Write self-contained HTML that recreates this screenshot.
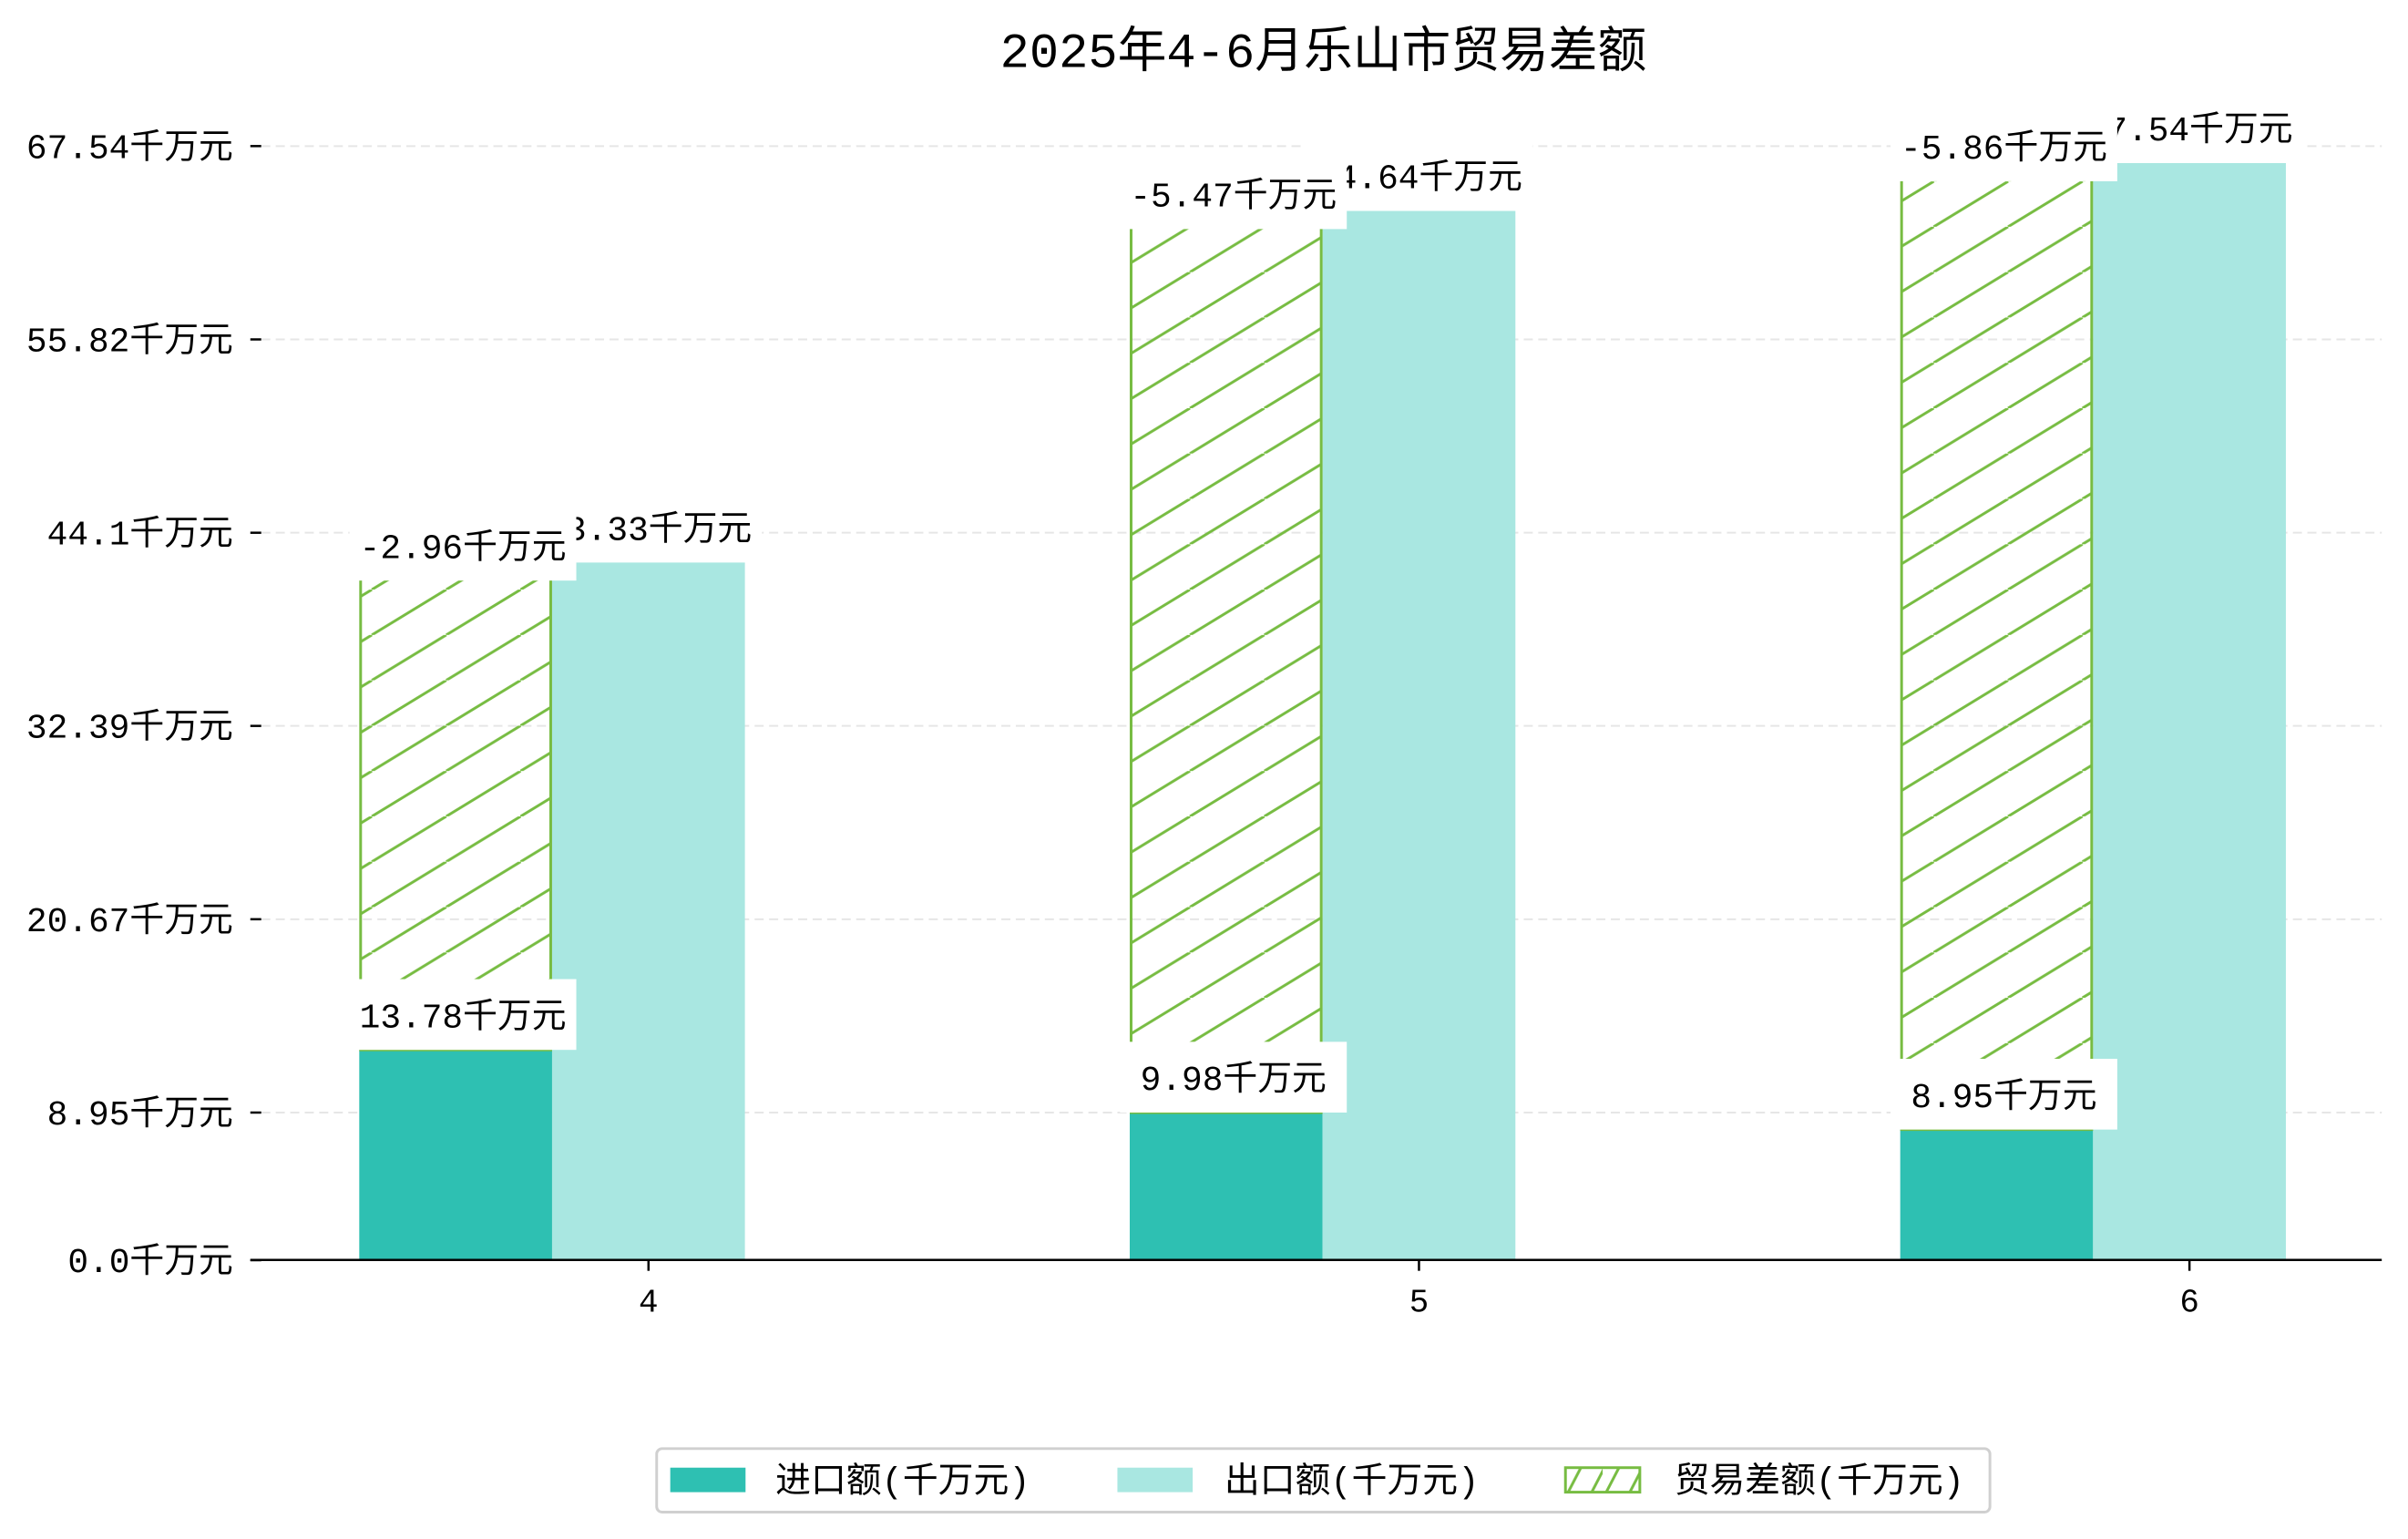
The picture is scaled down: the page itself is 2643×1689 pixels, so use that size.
<!DOCTYPE html>
<html><head><meta charset="utf-8"><title>2025年4-6月乐山市贸易差额</title>
<style>
html,body{margin:0;padding:0;background:#fff;width:2643px;height:1689px;overflow:hidden}
svg{display:block}
text{font-family:"Liberation Mono","Noto Sans CJK SC",monospace;fill:#000}
</style></head>
<body>
<svg id="chart" width="2643" height="1689" viewBox="0 0 2643 1689" xmlns="http://www.w3.org/2000/svg">
<defs>
<pattern id="hatch" patternUnits="userSpaceOnUse" width="82" height="50">
<line x1="0" y1="50" x2="82" y2="0" stroke="#77bc42" stroke-width="3"/>
<line x1="-82" y1="50" x2="0" y2="0" stroke="#77bc42" stroke-width="3"/>
<line x1="82" y1="50" x2="164" y2="0" stroke="#77bc42" stroke-width="3"/>
</pattern>
<pattern id="hatchLegend" patternUnits="userSpaceOnUse" width="42" height="27" x="1725" y="1618">
<line x1="4" y1="27" x2="18" y2="0" stroke="#77bc42" stroke-width="3"/>
<line x1="30" y1="27" x2="44" y2="0" stroke="#77bc42" stroke-width="3"/>
</pattern>
</defs>
<g transform="scale(0.9955)">
<text x="1459" y="74" font-size="54" text-anchor="middle">2025年4-6月乐山市贸易差额</text>
<g id="plot"></g>
<g>
<rect x="724" y="1597" width="1470" height="70" rx="6" fill="#fff" stroke="#d0d0d0" stroke-width="3"/>
<rect x="739" y="1618" width="83" height="27" fill="#2ec0b2"/>
<text x="855" y="1645" font-size="39">进口额(千万元)</text>
<rect x="1232" y="1618" width="83" height="27" fill="#a9e7e1"/>
<text x="1350" y="1645" font-size="39">出口额(千万元)</text>
<rect x="1726" y="1618" width="82" height="27" fill="url(#hatchLegend)" stroke="#77bc42" stroke-width="3"/>
<text x="1846" y="1645" font-size="39">贸易差额(千万元)</text>
</g>
</g>
</svg>
<script>
const months = ["4", "5", "6"];
const importVals = [13.78, 9.98, 8.95];
const exportVals = [43.33, 64.64, 67.54];
const balanceVals = [-2.96, -5.47, -5.86];
const tickVals = [0.0, 8.95, 20.67, 32.39, 44.1, 55.82, 67.54];
const tickOffset = 1.03;

const NS = "http://www.w3.org/2000/svg";
const plot = document.getElementById("plot");
const X0 = 276, X1 = 2626, AXIS_Y = 1389;
const Y_ZERO = 1408, K = 18.185;
const yScale = v => Y_ZERO - v * K;
const GROUP0 = 715, GROUP_STEP = 849.5, BW = 212.6;
const xCenter = i => GROUP0 + i * GROUP_STEP;

function mk(tag, attrs, parent) {
  const el = document.createElementNS(NS, tag);
  for (const k in attrs) el.setAttribute(k, attrs[k]);
  (parent || plot).appendChild(el);
  return el;
}

tickVals.forEach((t, i) => {
  const y = yScale(t + tickOffset);
  if (i > 0) {
    const g = mk("line", {x1: 288, x2: X1, y1: y, y2: y, stroke: "#e6e6e6", "stroke-width": 2, "stroke-dasharray": "10,6"});
    
    
  }
  const tk = mk("line", {x1: 276, x2: 288, y1: y, y2: y, stroke: "#000", "stroke-width": 2.5});
  
  
  const lb = mk("text", {x: 257, y: y + 13, "font-size": 38, "text-anchor": "end"});
  lb.textContent = t.toFixed(t === 44.1 || t === 0 ? 1 : 2) + "千万元";
  
  
});

const clip = mk("clipPath", {id: "plotClip"});
mk("rect", {x: X0, y: 0, width: X1 - X0, height: AXIS_Y}, clip);

const labelLayer = [];
months.forEach((m, i) => {
  const c = xCenter(i);
  const ix = c - 1.5 * BW, ex = c - 0.5 * BW;
  const iy = yScale(importVals[i]), ey = yScale(exportVals[i]);
  const ib = mk("rect", {x: ix, y: iy, width: BW, height: Y_ZERO - iy, fill: "#2ec0b2", "clip-path": "url(#plotClip)"});
  
  
  const eb = mk("rect", {x: ex, y: ey, width: BW, height: Y_ZERO - ey, fill: "#a9e7e1", "clip-path": "url(#plotClip)"});
  
  
  const hb = mk("rect", {x: ix + 1.5, y: ey, width: BW - 3, height: iy - ey, fill: "url(#hatch)", stroke: "#77bc42", "stroke-width": 3});
  
  
  labelLayer.push({cx: ex + BW / 2, bottom: ey, text: exportVals[i].toFixed(2) + "千万元", name: 'export-value-label-' + m});
  labelLayer.push({cx: ix + BW / 2 + 8, bottom: ey + 20, text: balanceVals[i].toFixed(2) + "千万元", name: 'balance-value-label-' + m});
  labelLayer.push({cx: ix + BW / 2 + 8, bottom: iy, text: importVals[i].toFixed(2) + "千万元", name: 'import-value-label-' + m});
  const xt = mk("line", {x1: c, x2: c, y1: AXIS_Y, y2: AXIS_Y + 12, stroke: "#000", "stroke-width": 2.5});
  
  
  const xl = mk("text", {x: c, y: AXIS_Y + 57, "font-size": 36, "text-anchor": "middle"});
  xl.textContent = m;
  
  
});

const ax = mk("line", {x1: X0, x2: X1, y1: AXIS_Y, y2: AXIS_Y, stroke: "#000", "stroke-width": 2.5});



labelLayer.forEach(L => {
  const g = mk("g", {});
  
  
  mk("rect", {x: L.cx - 125, y: L.bottom - 78, width: 250, height: 78, fill: "#fff"}, g);
  const t = mk("text", {x: L.cx, y: L.bottom - 25, "font-size": 38, "text-anchor": "middle"}, g);
  t.textContent = L.text;
});
</script>
</body></html>
